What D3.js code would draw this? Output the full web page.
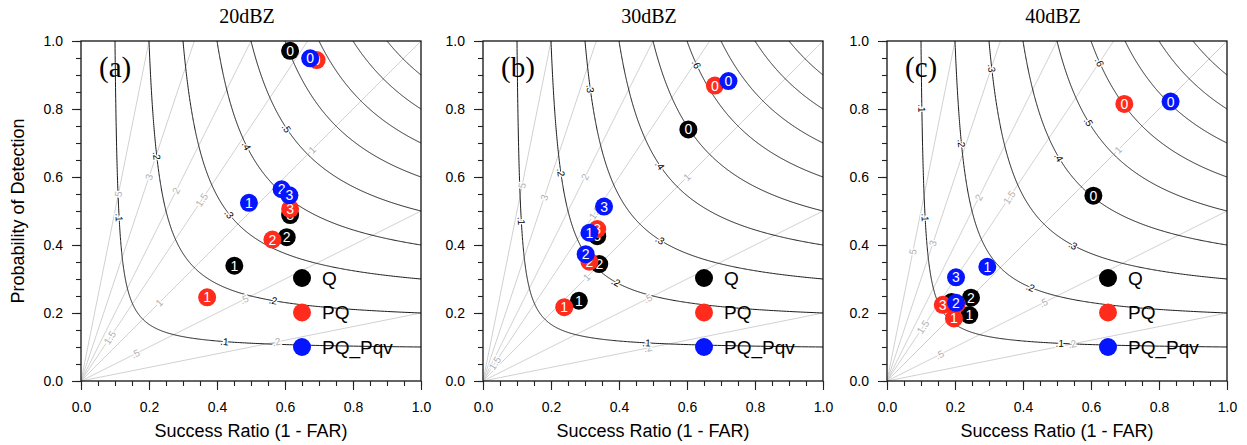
<!DOCTYPE html>
<html>
<head>
<meta charset="utf-8">
<script src="https://cdn.jsdelivr.net/npm/d3@7"></script>
<style>
  body { margin: 0; background: #fff; }
  svg { display: block; }
</style>
</head>
<body>
<script>
// ---- chart content ----
const panelTitles = ["20dBZ", "30dBZ", "40dBZ"];
const panelTags = ["(a)", "(b)", "(c)"];
const seriesNames = ["Q", "PQ", "PQ_Pqv"];
const pointIds = ["0", "1", "2", "3"];

// Success ratio and probability of detection, one row per panel (20, 30, 40 dBZ)
const srQ      = [[0.615, 0.451, 0.605, 0.615], [0.604, 0.282, 0.342, 0.336], [0.607, 0.242, 0.247, 0.190]];
const podQ     = [[0.971, 0.339, 0.423, 0.488], [0.740, 0.236, 0.344, 0.426], [0.545, 0.194, 0.245, 0.232]];
const srPQ     = [[0.693, 0.371, 0.563, 0.615], [0.682, 0.239, 0.313, 0.336], [0.698, 0.197, 0.205, 0.164]];
const podPQ    = [[0.944, 0.246, 0.416, 0.506], [0.869, 0.217, 0.351, 0.447], [0.815, 0.184, 0.226, 0.224]];
const srPqv    = [[0.674, 0.494, 0.590, 0.613], [0.722, 0.313, 0.302, 0.356], [0.834, 0.295, 0.203, 0.203]];
const podPqv   = [[0.949, 0.524, 0.564, 0.546], [0.882, 0.436, 0.373, 0.513], [0.822, 0.336, 0.230, 0.305]];

const csiLevels = [0.1, 0.2, 0.3, 0.4, 0.5, 0.6, 0.7, 0.8, 0.9];
const biasLevels = [0.2, 0.5, 1, 1.5, 2, 3, 5];
const tickValues = [0, 0.2, 0.4, 0.6, 0.8, 1.0];
const minorTickValues = d3.range(0, 1.0001, 0.05);

// ---- layout ----
const W = 1247, H = 445;
const panelLeft = [81, 483, 887];
const panelTop = 41;
const size = 340;
const colors = ["#000000", "#ff2b1c", "#0516ff"];
const sansFont = "'Liberation Sans', Arial, Helvetica, sans-serif";
const serifFont = "'Liberation Serif', 'Times New Roman', serif";

// Where the contour labels sit (approximate SR, POD; snapped onto the curve)
const csiLabelSpots = [
  [[0.1, 0.11, 0.48], [0.1, 0.42, 0.115], [0.2, 0.22, 0.66], [0.2, 0.565, 0.23], [0.3, 0.435, 0.49], [0.4, 0.485, 0.69], [0.5, 0.60, 0.74]],
  [[0.1, 0.115, 0.47], [0.1, 0.48, 0.11], [0.2, 0.23, 0.615], [0.2, 0.39, 0.29], [0.3, 0.31, 0.86], [0.3, 0.52, 0.415], [0.4, 0.515, 0.63], [0.6, 0.625, 0.93]],
  [[0.1, 0.097, 0.80], [0.1, 0.106, 0.48], [0.1, 0.51, 0.11], [0.2, 0.215, 0.70], [0.2, 0.42, 0.27], [0.3, 0.30, 0.92], [0.3, 0.545, 0.395], [0.4, 0.50, 0.655], [0.5, 0.59, 0.76], [0.6, 0.62, 0.935]]
];
// Frequency-bias label spots: [bias, SR]
const biasLabelSpots = [
  [[5, 0.11], [3, 0.2], [2, 0.28], [1.5, 0.355], [1, 0.68], [0.5, 0.48], [0.2, 0.575], [1, 0.23], [1.5, 0.085], [0.5, 0.16]],
  [[5, 0.115], [3, 0.18], [2, 0.30], [1.5, 0.33], [1, 0.60], [1, 0.305], [0.5, 0.485], [0.2, 0.485], [1.5, 0.035]],
  [[5, 0.076], [3, 0.135], [2, 0.27], [1.5, 0.36], [1, 0.68], [0.5, 0.46], [0.2, 0.545], [1.5, 0.106], [0.5, 0.155]]
];

const fmtLevel = v => String(v).replace(/^0\./, ".");

const svg = d3.select("body").append("svg")
  .attr("width", W).attr("height", H)
  .attr("viewBox", `0 0 ${W} ${H}`);

// CSI isoline: with a = 1/SR - 1, b = 1/POD - 1, a + b = 1/CSI - 1
function csiCurve(c) {
  const K = 1 / c - 1;
  return d3.range(0, 1.0001, 0.0025).map(s => [1 / (1 + K * s), 1 / (1 + K * (1 - s))]);
}

const seriesSR = [srQ, srPQ, srPqv];
const seriesPOD = [podQ, podPQ, podPqv];

panelTitles.forEach((title, p) => {
  const x = d3.scaleLinear().domain([0, 1]).range([panelLeft[p], panelLeft[p] + size]);
  const y = d3.scaleLinear().domain([0, 1]).range([panelTop + size, panelTop]);
  const g = svg.append("g");

  const clipId = "clip" + p;
  svg.append("clipPath").attr("id", clipId).append("rect")
    .attr("x", x(0)).attr("y", y(1)).attr("width", size).attr("height", size);
  const plot = g.append("g").attr("clip-path", `url(#${clipId})`);

  // frequency-bias rays
  plot.selectAll("line.bias").data(biasLevels).join("line")
    .attr("x1", x(0)).attr("y1", y(0))
    .attr("x2", b => x(Math.min(1, 1 / b)))
    .attr("y2", b => y(Math.min(1, b)))
    .attr("stroke", "#cccccc").attr("stroke-width", 0.9);

  // CSI isolines
  const line = d3.line().x(d => x(d[0])).y(d => y(d[1]));
  plot.selectAll("path.csi").data(csiLevels).join("path")
    .attr("d", c => line(csiCurve(c)))
    .attr("fill", "none").attr("stroke", "#1a1a1a").attr("stroke-width", 1);

  // bias labels
  biasLabelSpots[p].forEach(([b, sr]) => {
    const px = x(sr), py = y(b * sr);
    const ang = -Math.atan(b) * 180 / Math.PI;
    plot.append("text")
      .attr("transform", `translate(${px},${py}) rotate(${ang})`)
      .attr("text-anchor", "middle").attr("dy", "0.35em")
      .attr("font-family", sansFont).attr("font-size", 10)
      .attr("fill", "#b0b0b0")
      .attr("stroke", "#fff").attr("stroke-width", 2.5).attr("paint-order", "stroke")
      .text(fmtLevel(b));
  });

  // CSI labels, snapped to the isoline and turned along it
  csiLabelSpots[p].forEach(([c, sr, pod]) => {
    const pts = csiCurve(c).map(d => [x(d[0]), y(d[1])]);
    const tx = x(sr), ty = y(pod);
    let best = 0, bd = Infinity;
    pts.forEach((q, i) => {
      const d = (q[0] - tx) ** 2 + (q[1] - ty) ** 2;
      if (d < bd) { bd = d; best = i; }
    });
    const i0 = Math.max(0, best - 2), i1 = Math.min(pts.length - 1, best + 2);
    let ang = Math.atan2(pts[i1][1] - pts[i0][1], pts[i1][0] - pts[i0][0]) * 180 / Math.PI;
    if (ang > 90) ang -= 180;
    if (ang < -90) ang += 180;
    plot.append("text")
      .attr("transform", `translate(${pts[best][0]},${pts[best][1]}) rotate(${ang})`)
      .attr("text-anchor", "middle").attr("dy", "0.35em")
      .attr("font-family", sansFont).attr("font-size", 10)
      .attr("fill", "#000")
      .attr("stroke", "#fff").attr("stroke-width", 2.5).attr("paint-order", "stroke")
      .text(fmtLevel(c));
  });

  // frame
  g.append("rect")
    .attr("x", x(0)).attr("y", y(1)).attr("width", size).attr("height", size)
    .attr("fill", "none").attr("stroke", "#111").attr("stroke-width", 1.3);

  // axes
  const xAxis = d3.axisBottom(x).tickValues(tickValues).tickFormat(d3.format(".1f"))
    .tickSizeInner(9).tickSizeOuter(0).tickPadding(12);
  const yAxis = d3.axisLeft(y).tickValues(tickValues).tickFormat(d3.format(".1f"))
    .tickSizeInner(9).tickSizeOuter(0).tickPadding(9);
  const xMinor = d3.axisBottom(x).tickValues(minorTickValues).tickFormat("")
    .tickSizeInner(5).tickSizeOuter(0);
  const yMinor = d3.axisLeft(y).tickValues(minorTickValues).tickFormat("")
    .tickSizeInner(5).tickSizeOuter(0);

  [
    g.append("g").attr("transform", `translate(0,${y(0)})`).call(xMinor),
    g.append("g").attr("transform", `translate(${x(0)},0)`).call(yMinor),
    g.append("g").attr("transform", `translate(0,${y(0)})`).call(xAxis),
    g.append("g").attr("transform", `translate(${x(0)},0)`).call(yAxis)
  ].forEach(ax => {
    ax.select(".domain").remove();
    ax.selectAll("line").attr("stroke", "#222").attr("stroke-width", 1.1);
    ax.selectAll("text").attr("font-family", sansFont).attr("font-size", 14).attr("fill", "#000");
  });

  // data points: series drawn in order, each point numbered
  seriesNames.forEach((name, s) => {
    const pts = seriesSR[s][p].map((sr, i) => ({ sr, pod: seriesPOD[s][p][i], id: pointIds[i] }));
    const pg = g.append("g");
    pts.forEach(d => {
      pg.append("circle").attr("cx", x(d.sr)).attr("cy", y(d.pod)).attr("r", 9)
        .attr("fill", colors[s]);
      pg.append("text").attr("x", x(d.sr)).attr("y", y(d.pod))
        .attr("text-anchor", "middle").attr("dy", "0.36em")
        .attr("font-family", sansFont).attr("font-size", 14).attr("fill", "#fff")
        .text(d.id);
    });
  });

  // legend
  seriesNames.forEach((name, s) => {
    const ly = panelTop + 237 + s * 34.5;
    g.append("circle").attr("cx", x(0) + 221).attr("cy", ly).attr("r", 9).attr("fill", colors[s]);
    g.append("text").attr("x", x(0) + 241).attr("y", ly).attr("dy", "0.36em")
      .attr("font-family", sansFont).attr("font-size", 19).attr("fill", "#000")
      .text(name);
  });

  // panel tag and title
  g.append("text").attr("x", x(0) + 18).attr("y", panelTop + 36)
    .attr("font-family", serifFont).attr("font-size", 29).attr("fill", "#000")
    .text(panelTags[p]);
  g.append("text").attr("x", x(0.5) - 4).attr("y", 23)
    .attr("text-anchor", "middle")
    .attr("font-family", serifFont).attr("font-size", 20).attr("fill", "#000")
    .text(title);

  // x axis title
  g.append("text").attr("x", x(0.5)).attr("y", 437)
    .attr("text-anchor", "middle")
    .attr("font-family", sansFont).attr("font-size", 18).attr("fill", "#000")
    .text("Success Ratio (1 - FAR)");
});

// y axis title (first panel only)
svg.append("text")
  .attr("transform", `translate(24,${panelTop + size / 2}) rotate(-90)`)
  .attr("text-anchor", "middle")
  .attr("font-family", sansFont).attr("font-size", 18).attr("fill", "#000")
  .text("Probability of Detection");
</script>
</body>
</html>
